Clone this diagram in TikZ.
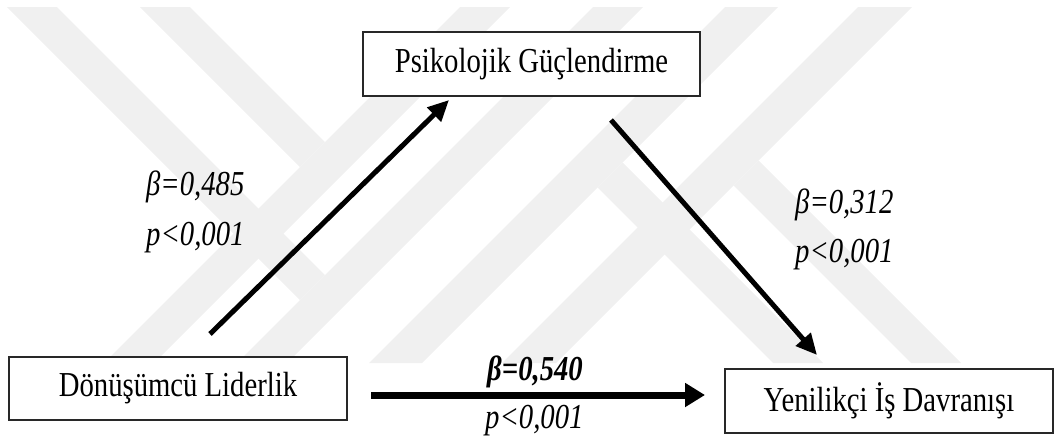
\documentclass[tikz,border=0pt]{standalone}
\usepackage{fontspec}
\setmainfont{Liberation Serif}[FakeStretch=0.82]
\usetikzlibrary{arrows.meta}
\definecolor{wm}{RGB}{240,240,240}
\definecolor{boxline}{RGB}{40,40,40}
\begin{document}
\begin{tikzpicture}[x=1pt,y=-1pt,
  box/.style={draw=boxline, line width=1.1pt, fill=white, minimum height=64pt, inner sep=0pt, font=\fontsize{35}{40}\selectfont},
  lab/.style={anchor=base west, inner sep=0pt, font=\fontsize{35}{40}\selectfont\itshape},
  blab/.style={anchor=base west, inner sep=0pt, font=\fontsize{35}{40}\selectfont\bfseries\itshape},
  darr/.style={line width=5pt, -{Triangle[length=21pt,width=19pt]}},
  harr/.style={line width=7pt, -{Triangle[length=20pt,width=23pt]}},
  wmk/.style={fill=wm, draw=none}]
\useasboundingbox (0,0) rectangle (1055,437);
% watermark
\fill[wmk] (460,7) -- (510,7) -- (154,363) -- (104,363) -- cycle;
\fill[wmk] (593,7) -- (643,7) -- (287,363) -- (237,363) -- cycle;
\fill[wmk] (725,7) -- (778,7) -- (422,363) -- (369,363) -- cycle;
\fill[wmk] (858,7) -- (912,7) -- (556,363) -- (502,363) -- cycle;
\fill[wmk] (7,7) -- (57,7) -- (325,275) -- (300,300) -- cycle;
\fill[wmk] (140,7) -- (190,7) -- (325,142) -- (300,167) -- cycle;
\fill[wmk] (622.5,162.5) -- (823,363) -- (773,363) -- (597.5,187.5) -- cycle;
\fill[wmk] (758.5,160.5) -- (961,363) -- (911,363) -- (733.5,185.5) -- cycle;
% boxes
\node[box, minimum width=337pt] (pg) at (531.5,64) {Psikolojik Güçlendirme};
\node[box, minimum width=338pt, minimum height=63pt] (dl) at (178,388.5) {Dönüşümcü Liderlik};
\node[box, minimum width=328pt] (yid) at (889,401) {Yenilikçi İş Davranışı};
% arrow ends
\coordinate (a1s) at (210,334);
\coordinate (a1e) at (449,100);
\coordinate (a2s) at (611,120);
\coordinate (a2e) at (817,355);
\coordinate (a3s) at (371,395);
\coordinate (a3e) at (705,395);
\draw[darr] (a1s) -- (a1e);
\draw[darr] (a2s) -- (a2e);
\draw[harr] (a3s) -- (a3e);
% labels
\node[lab] (b1) at (146,195) {β=0,485};
\node[lab] (p1) at (146,245) {p<0,001};
\node[lab] (b2) at (795,213) {β=0,312};
\node[lab] (p2) at (795,262) {p<0,001};
\node[blab] (b3) at (487,380) {β=0,540};
\node[lab] (p3) at (485,428) {p<0,001};
\end{tikzpicture}
\end{document}
